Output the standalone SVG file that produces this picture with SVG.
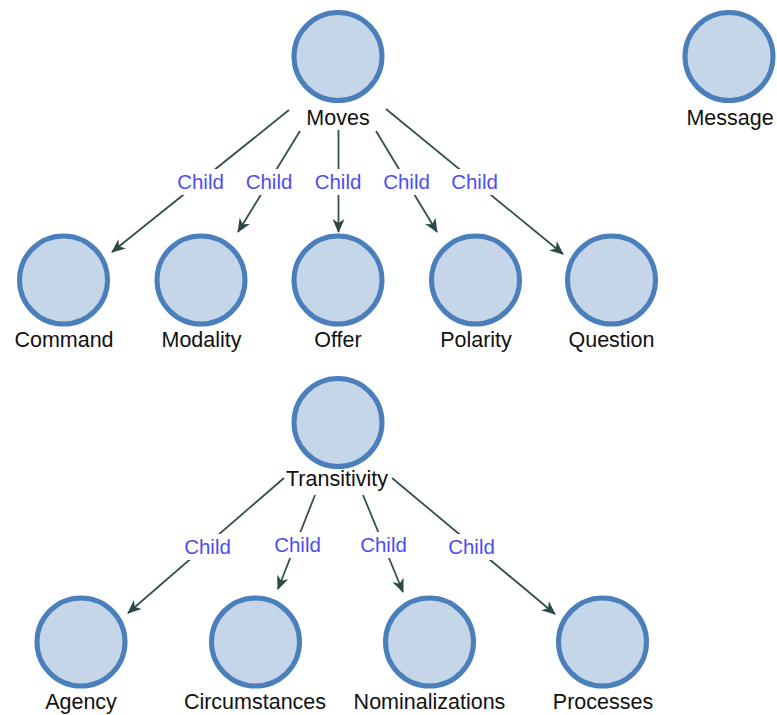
<svg xmlns="http://www.w3.org/2000/svg" width="777" height="715" viewBox="0 0 777 715">
  <defs>
    <style>
      .node circle { fill: #c5d6e9; stroke: #4a7fbb; stroke-width: 5; }
      .node text { font-family: "Liberation Sans", Arial, sans-serif; font-size: 21.5px; fill: #111; text-anchor: middle; }
      .edge line { stroke: #34504f; stroke-width: 1.8; fill: none; marker-end: url(#arrow); }
      .edge rect { fill: #ffffff; }
      .edge text { font-family: "Liberation Sans", Arial, sans-serif; font-size: 20.5px; fill: #4d4df2; text-anchor: middle; }
    </style>
    <marker id="arrow" viewBox="0 0 14 12" refX="13" refY="6" markerWidth="14" markerHeight="12" markerUnits="userSpaceOnUse" orient="auto">
      <path d="M0,0 L14,6 L0,12 L4,6 Z" fill="#2c4847"/>
    </marker>
  </defs>

  <!-- connectors -->
  <g id="edges">
    <g class="edge">
      <line x1="289" y1="110" x2="112" y2="252"/>
      <line x1="300" y1="131" x2="238" y2="232"/>
      <line x1="338.5" y1="130" x2="338.5" y2="232"/>
      <line x1="376" y1="131" x2="437" y2="232"/>
      <line x1="386" y1="109" x2="563" y2="254"/>
      <line x1="284" y1="478" x2="128" y2="613"/>
      <line x1="315" y1="495" x2="278" y2="589"/>
      <line x1="363" y1="495" x2="403" y2="592"/>
      <line x1="392" y1="478" x2="555" y2="614"/>

      <rect x="176" y="169" width="49" height="26"/>
      <rect x="245" y="169" width="49" height="26"/>
      <rect x="314" y="169" width="49" height="26"/>
      <rect x="382" y="169" width="49" height="26"/>
      <rect x="450" y="169" width="49" height="26"/>
      <rect x="183" y="534" width="49" height="26"/>
      <rect x="273" y="532" width="49" height="26"/>
      <rect x="359" y="532" width="49" height="26"/>
      <rect x="447" y="534" width="49" height="26"/>

      <text x="200.5" y="189">Child</text>
      <text x="269" y="189">Child</text>
      <text x="338" y="189">Child</text>
      <text x="406.5" y="189">Child</text>
      <text x="474.5" y="189">Child</text>
      <text x="207.5" y="554">Child</text>
      <text x="297.5" y="552">Child</text>
      <text x="383.5" y="552">Child</text>
      <text x="471.5" y="554">Child</text>
    </g>
  </g>

  <!-- nodes -->
  <g id="moves" class="node"><circle cx="338" cy="56.5" r="44"/><text x="338" y="125">Moves</text></g>
  <g id="message" class="node"><circle cx="729" cy="56.5" r="44"/><text x="730" y="125">Message</text></g>

  <g id="command" class="node"><circle cx="63.5" cy="280" r="44"/><text x="64" y="347">Command</text></g>
  <g id="modality" class="node"><circle cx="201" cy="280" r="44"/><text x="201.5" y="347">Modality</text></g>
  <g id="offer" class="node"><circle cx="338" cy="280" r="44"/><text x="338" y="347">Offer</text></g>
  <g id="polarity" class="node"><circle cx="475.5" cy="280" r="44"/><text x="476" y="347">Polarity</text></g>
  <g id="question" class="node"><circle cx="611.5" cy="280" r="44"/><text x="611.5" y="347">Question</text></g>

  <g id="transitivity" class="node"><circle cx="338" cy="422.5" r="44"/><text x="337" y="486">Transitivity</text></g>

  <g id="agency" class="node"><circle cx="81" cy="642" r="44"/><text x="81" y="709">Agency</text></g>
  <g id="circumstances" class="node"><circle cx="255.5" cy="642" r="44"/><text x="255" y="709">Circumstances</text></g>
  <g id="nominalizations" class="node"><circle cx="429.5" cy="642" r="44"/><text x="429.5" y="709">Nominalizations</text></g>
  <g id="processes" class="node"><circle cx="602.5" cy="642" r="44"/><text x="603" y="709">Processes</text></g>
</svg>
